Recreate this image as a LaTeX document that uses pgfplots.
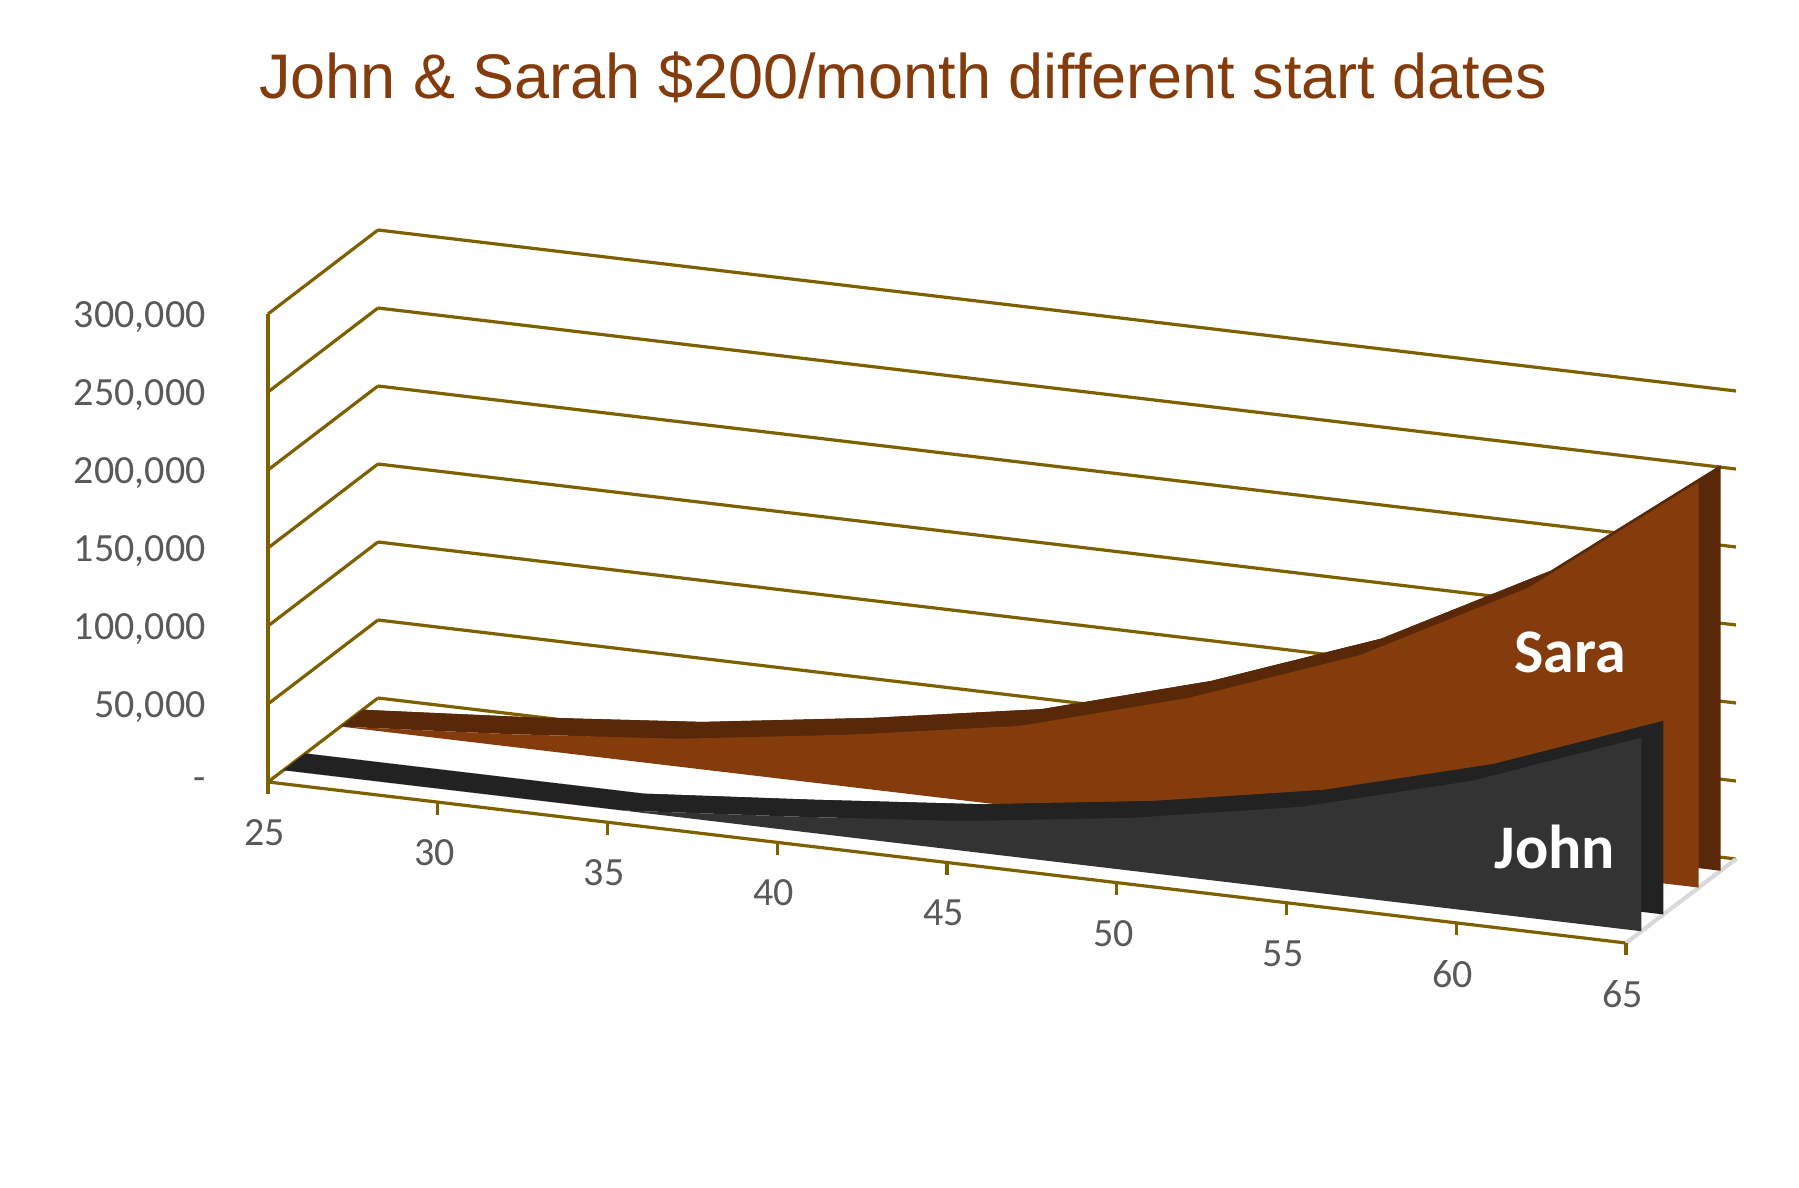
\documentclass[border=0pt]{standalone}
\usepackage{pgfplots}
\pgfplotsset{compat=1.18}
\usepackage{pgfplotstable}
\usepackage{fontspec}
\setmainfont{Carlito}
\newfontfamily\titlefont{Liberation Sans}
\usetikzlibrary{calc}
\newlength{\px}\setlength{\px}{0.5pt}
\definecolor{axisgold}{RGB}{127,96,0}
\definecolor{saraface}{RGB}{132,60,12}
\definecolor{saraedge}{RGB}{88,40,8}
\definecolor{johnface}{RGB}{51,51,51}
\definecolor{johnedge}{RGB}{34,34,34}
\definecolor{labelgray}{RGB}{89,89,89}
\definecolor{titlebrown}{RGB}{132,60,12}

\pgfplotstableread{
age sara john
25 0 0
30 8000 0
35 18000 0
40 33500 9000
45 52000 19000
50 83000 34000
55 123000 54000
60 179500 83500
65 260000 124000
}\savings
% outline of the top ridge: the values forwards, then backwards
\pgfplotstablesort[sort key=age, sort cmp=float <]{\ridge}{\savings}
\pgfplotstablesort[sort key=age, sort cmp=float >]{\backwards}{\savings}
\pgfplotstablevertcat{\ridge}{\backwards}

\begin{document}
\begin{tikzpicture}
\begin{axis}[
  x={(33.95\px,-4.025\px)}, y={(110\px,84\px)}, z={(0\px,0.00155\px)},
  xmin=25, xmax=65, ymin=0, ymax=1, zmin=0, zmax=300000,
  axis lines=left,
  axis line style={axisgold, line width=1.6pt},
  every inner x axis line/.append style={-},
  every inner y axis line/.append style={-},
  every inner z axis line/.append style={-},
  every outer x axis line/.append style={-},
  every outer y axis line/.append style={-},
  every outer z axis line/.append style={-},
  xtick={25,30,...,65},
  xticklabels={25,30,35,40,45,50,55,60,65},
  ytick=\empty,
  ztick={0,50000,...,300000},
  zticklabels={-,{50,000},{100,000},{150,000},{200,000},{250,000},{300,000}},
  scaled z ticks=false,
  zmajorgrids=true,
  major grid style={axisgold, line width=1.6pt},
  tick style={draw=none},
  ticklabel style={font=\fontsize{20}{24}\selectfont, text=labelgray},
  xticklabel style={anchor=north, yshift=-14pt},
  zticklabel style={anchor=east, xshift=-26pt},
  clip=false,
]
\coordinate (A) at (axis cs:25,0,0);
% floor edge on the right
\addplot3[draw=gray!30, line width=2pt] coordinates {(65,0,0) (65,1,0)};
% tick marks of the age axis, pointing down
\addplot3[quiver={u=0, v=0, w=-8000}, draw=axisgold, line width=1.6pt, mark=none, -]
  table[x=age, y expr=0, z expr=0]{\savings};
% Sara (back series): back face, top ridge, front face
\addplot3[draw=none, fill=saraedge] table[x=age, y expr=0.86, z=sara]{\savings} -- (axis cs:65,0.86,0) -- cycle;
\addplot3[draw=none, fill=saraedge] table[x=age, y expr={\coordindex<9 ? 0.66 : 0.86}, z=sara]{\ridge} -- cycle;
\addplot3[draw=none, fill=saraface] table[x=age, y expr=0.66, z=sara]{\savings} -- (axis cs:65,0.66,0) -- cycle;
% John (front series): back face, top ridge, front face
\addplot3[draw=none, fill=johnedge] table[x=age, y expr=0.34, z=john]{\savings} -- (axis cs:65,0.34,0) -- cycle;
\addplot3[draw=none, fill=johnedge] table[x=age, y expr={\coordindex<9 ? 0.14 : 0.34}, z=john]{\ridge} -- cycle;
\addplot3[draw=none, fill=johnface] table[x=age, y expr=0.14, z=john]{\savings} -- (axis cs:65,0.14,0) -- cycle;
\end{axis}
\node[anchor=base, font=\titlefont\fontsize{31.5}{36}\selectfont, text=titlebrown]
  at ($(A)+(635\px,683.5\px)$) {John \& Sarah \$200/month different start dates};
\node[font=\bfseries\fontsize{31}{36}\selectfont, text=white] at ($(A)+(1302\px,130\px)$) {Sara};
\node[font=\bfseries\fontsize{31}{36}\selectfont, text=white] at ($(A)+(1287\px,-65\px)$) {John};
\pgfresetboundingbox
\path ($(A)+(-268\px,782\px)$) rectangle ($(A)+(1531\px,-406\px)$);
\end{tikzpicture}
\end{document}
